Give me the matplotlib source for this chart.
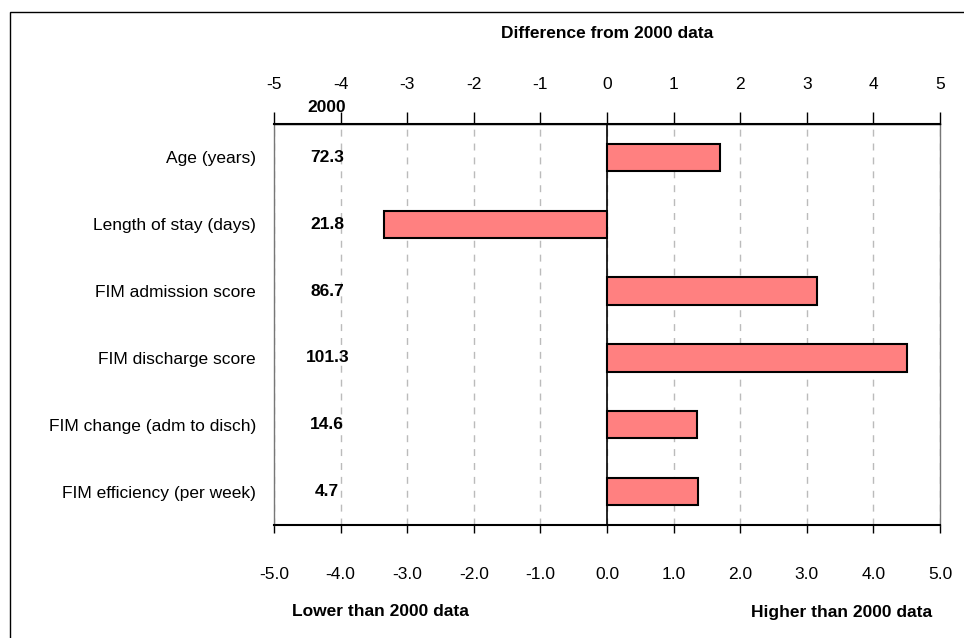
import matplotlib
matplotlib.use("Agg")
import matplotlib.pyplot as plt
from matplotlib import font_manager as fm
from matplotlib.patches import Rectangle

names = {f.name for f in fm.fontManager.ttflist}
fam = ['Liberation Sans Narrow', 'Liberation Sans', 'DejaVu Sans'] if 'Liberation Sans Narrow' in names else ['Liberation Sans', 'DejaVu Sans']
plt.rcParams['font.family'] = fam

categories = ["Age (years)", "Length of stay (days)", "FIM admission score",
              "FIM discharge score", "FIM change (adm to disch)", "FIM efficiency (per week)"]
values_2000 = ["72.3", "21.8", "86.7", "101.3", "14.6", "4.7"]
differences = [1.70, -3.35, 3.15, 4.50, 1.35, 1.37]
ticks = [-5, -4, -3, -2, -1, 0, 1, 2, 3, 4, 5]

fig = plt.figure(figsize=(9.64, 6.38), dpi=100)
ax = fig.add_axes([274/964, 1-525/638, 666/964, 401/638])

y = list(range(len(categories)))
ax.barh(y, differences, height=0.41, color='#FF8080', edgecolor='black', linewidth=1.5, zorder=3)
ax.set_ylim(len(categories)-0.5, -0.5)
ax.set_xlim(-5, 5)
ax.set_yticks(y)
ax.set_yticklabels(categories, fontsize=12.5)
ax.tick_params(axis='y', length=0, pad=13)
ax.set_xticks(ticks)
ax.set_xticklabels([f"{t:.1f}" for t in ticks], fontsize=12.5)
ax.tick_params(axis='x', direction='out', length=6, width=1, pad=24)
for t in ticks:
    ax.axvline(t, color='#BBBBBB', linestyle=(0, (5, 5)), linewidth=1, zorder=1)
ax.axvline(0, color='black', linewidth=1.2, zorder=2)
for s in ax.spines.values():
    s.set_color('black')
    s.set_linewidth(1.0)
ax.spines['bottom'].set_linewidth(1.5)
ax.spines['left'].set_color('#777777')
ax.spines['right'].set_color('#777777')

ax2 = ax.twiny()
ax2.set_xlim(-5, 5)
ax2.set_xticks(ticks)
ax2.set_xticklabels([str(t) for t in ticks], fontsize=12.5)
ax2.tick_params(axis='x', direction='out', length=9, pad=14, width=1)
ax2.spines['top'].set_linewidth(1.5)
ax2.spines['left'].set_visible(False)
ax2.spines['right'].set_visible(False)
ax2.spines['bottom'].set_visible(False)

for yi, v in zip(y, values_2000):
    ax.text(-4.2, yi, v, ha='center', va='center', fontsize=12.5, fontweight='bold')
fig.text(327/964, 1-108/638, "2000", ha='center', va='center', fontsize=12.5, fontweight='bold')
fig.text(607/964, 1-33/638, "Difference from 2000 data", ha='center', va='center', fontsize=12.5, fontweight='bold')
fig.text(380/964, 1-612/638, "Lower than 2000 data", ha='center', va='center', fontsize=12.5, fontweight='bold')
fig.text(842/964, 1-612/638, "Higher than 2000 data", ha='center', va='center', fontsize=12.5, fontweight='bold')

fig.patches.append(Rectangle((10/964, -0.05), 1, 1.05-12/638, transform=fig.transFigure,
                             fill=False, edgecolor='black', linewidth=1.0))

fig.savefig("out.png", dpi=100)
